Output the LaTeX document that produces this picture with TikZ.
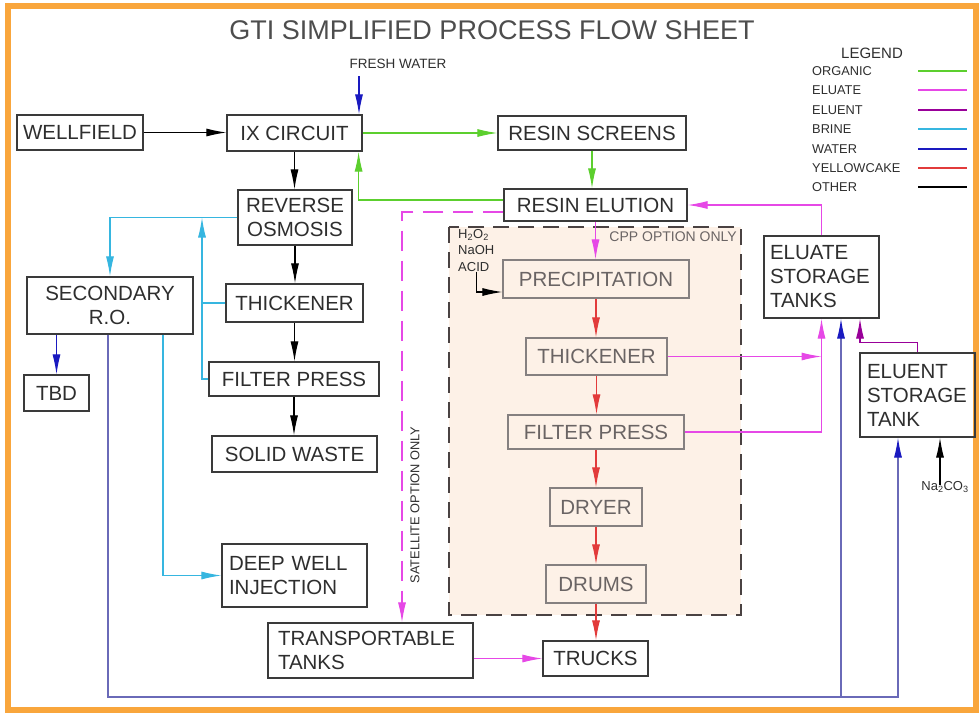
\documentclass[tikz,border=0pt]{standalone}
\usepackage{fontspec}
\setmainfont{Liberation Sans}
\usepackage{xcolor}
\usetikzlibrary{arrows.meta}

\definecolor{organic}{HTML}{5CCF2E}
\definecolor{eluate}{HTML}{E648E6}
\definecolor{eluent}{HTML}{990099}
\definecolor{brine}{HTML}{36B6E0}
\definecolor{water}{HTML}{1A1AC0}
\definecolor{waterline}{HTML}{6A6AB8}
\definecolor{yellowcake}{HTML}{E23B3B}
\definecolor{frameorange}{HTML}{F9A63C}
\definecolor{cppfill}{HTML}{FDF1E7}
\definecolor{cppdash}{HTML}{4A4242}
\definecolor{cppline}{HTML}{858080}
\definecolor{cpptext}{HTML}{6A6464}
\definecolor{boxline}{HTML}{3A3A3A}
\definecolor{textdark}{HTML}{2E2E2E}

\newcommand{\boxfont}{\fontsize{20.5}{24}\selectfont}
\newcommand{\smallfont}{\fontsize{13.5}{16}\selectfont}
\newcommand{\chemfont}{\fontsize{13}{16.5}\selectfont}

\begin{document}
\begin{tikzpicture}[x=1pt, y=-1pt,
  box/.style={draw=boxline, line width=1.2pt, inner sep=0pt, align=center, text=textdark, font=\boxfont},
  lbox/.style={box, align=left, inner xsep=7pt},
  cppbox/.style={box, draw=cppline, text=cpptext},
  smalltext/.style={font=\smallfont, text=textdark, inner sep=0pt},
  legendtext/.style={smalltext, font=\fontsize{12.8}{15}\selectfont, anchor=west},
  flow/.style={line width=1.1pt, -{Latex[length=20pt, width=8pt]}},
  organicflow/.style={flow, organic},
  eluateflow/.style={flow, eluate},
  eluentflow/.style={flow, eluent},
  brineflow/.style={flow, brine},
  waterflow/.style={flow, water},
  longwater/.style={flow, draw=waterline, -{Latex[length=20pt, width=8pt, color=water]}},
  cakeflow/.style={flow, yellowcake}]
\useasboundingbox (0,0) rectangle (979,713);
% Frame and title
\draw[frameorange, line width=6pt] (8,6) rectangle (976,710);
\node[font=\fontsize{27}{30}\selectfont, text=textdark!85] at (492,30) (title) {GTI SIMPLIFIED PROCESS FLOW SHEET};
% CPP option area
\draw[cppdash, fill=cppfill, line width=2.6pt, dash pattern=on 16pt off 9pt] (449,227) rectangle (741,615);
% Define the nodes
\node[box, minimum width=126pt, minimum height=35pt] at (80,132.5) (wellfield) {WELLFIELD};
\node[box, minimum width=135pt, minimum height=36pt] at (294.5,133) (ix) {IX CIRCUIT};
\node[box, minimum width=188pt, minimum height=34pt] at (592,133) (screens) {RESIN SCREENS};
\node[box, minimum width=183pt, minimum height=32pt] at (595.5,205) (elution) {RESIN ELUTION};
\node[box, minimum width=114pt, minimum height=55pt] at (295,217.5) (ro) {REVERSE\\OSMOSIS};
\node[box, minimum width=137pt, minimum height=38pt] at (294.5,303) (thickL) {THICKENER};
\node[box, minimum width=170pt, minimum height=34pt] at (294,379) (filterL) {FILTER PRESS};
\node[box, minimum width=165pt, minimum height=36pt] at (294.5,454) (waste) {SOLID WASTE};
\node[box, minimum width=166pt, minimum height=57pt] at (110,305.5) (secro) {SECONDARY\\R.O.};
\node[box, minimum width=65pt, minimum height=36pt] at (56.5,393) (tbd) {TBD};
\node[lbox, text width=131pt, minimum height=63pt] at (294.5,575.5) (deepwell) {DEEP WELL\\INJECTION};
\node[lbox, inner xsep=10pt, text width=185pt, minimum height=55pt] at (370.5,650.5) (transport) {TRANSPORTABLE\\TANKS};
\node[box, minimum width=105pt, minimum height=35pt] at (595.5,658.5) (trucks) {TRUCKS};
\node[cppbox, minimum width=186pt, minimum height=38pt] at (596,279) (precip) {PRECIPITATION};
\node[cppbox, minimum width=141pt, minimum height=37pt] at (596.5,356.5) (thickR) {THICKENER};
\node[cppbox, minimum width=176pt, minimum height=34pt] at (596,432) (filterR) {FILTER PRESS};
\node[cppbox, minimum width=92pt, minimum height=38pt] at (596,507) (dryer) {DRYER};
\node[cppbox, minimum width=100pt, minimum height=38pt] at (596,584) (drums) {DRUMS};
\node[lbox, inner xsep=6pt, text width=103pt, minimum height=82pt] at (821.5,277) (eluate) {ELUATE\\STORAGE\\TANKS};
\node[lbox, text width=101pt, minimum height=84pt] at (917.5,395) (eluent) {ELUENT\\STORAGE\\TANK};
% Labels
\node[smalltext] at (398,64) (freshwater) {FRESH WATER};
\node[smalltext, font=\chemfont, align=left, anchor=north west] at (458,229) (chem) {H\textsubscript{2}O\textsubscript{2}\\NaOH\\ACID};
\node[smalltext, font=\fontsize{14}{16}\selectfont, text=cpptext, anchor=east] at (737,237) (cppnote) {CPP OPTION ONLY};
\node[smalltext, font=\fontsize{12.8}{15}\selectfont, rotate=90] at (415,505) (satnote) {SATELLITE OPTION ONLY};
\node[smalltext, font=\chemfont] at (945,487) (soda) {Na\textsubscript{2}CO\textsubscript{3}};
% Legend
\node[smalltext, font=\fontsize{15}{17}\selectfont] at (872,53) (legend) {LEGEND};
\node[legendtext] at (812,71) (lorganic) {ORGANIC};
\node[legendtext] at (812,90) (leluate) {ELUATE};
\node[legendtext] at (812,110) (leluent) {ELUENT};
\node[legendtext] at (812,129) (lbrine) {BRINE};
\node[legendtext] at (812,149) (lwater) {WATER};
\node[legendtext] at (812,168) (lcake) {YELLOWCAKE};
\node[legendtext] at (812,187) (lother) {OTHER};
\draw[organic, line width=2.5pt] (918,71) -- (967,71);
\draw[eluate, line width=2.5pt] (918,90) -- (967,90);
\draw[eluent, line width=2.5pt] (918,110) -- (967,110);
\draw[brine, line width=2.5pt] (918,129) -- (967,129);
\draw[water, line width=2.5pt] (918,149) -- (967,149);
\draw[yellowcake, line width=2.5pt] (918,168) -- (967,168);
\draw[black, line width=2.5pt] (918,187) -- (967,187);
% Draw the paths
\draw[flow] (wellfield.east) -- (wellfield.east -| ix.west);
\draw[flow] (ix.south) -- (ix.south |- ro.north);
\draw[flow] (ro.south) -- (ro.south |- thickL.north);
\draw[flow] (thickL.south) -- (thickL.south |- filterL.north);
\draw[flow] (filterL.south) -- (filterL.south |- waste.north);
\draw[flow] (chem.south) |- ([yshift=-13pt]precip.west);
\draw[flow] ([xshift=-5pt,yshift=-4pt]soda.north) -- ([xshift=22.5pt]eluent.south);
% water
\coordinate (fwtop) at (359,76);
\coordinate (wbase) at (0,697);
\coordinate (wup) at ([xshift=19.5pt]eluate.south);
\coordinate (wright) at ([xshift=-19.5pt]eluent.south);
\draw[waterflow] (fwtop) -- (fwtop |- ix.north);
\draw[waterflow] (tbd.north |- secro.south) -- (tbd.north);
\draw[longwater] ([xshift=-2pt]secro.south) |- (wright |- wbase) -- (wright);
\draw[longwater] (wup |- wbase) -- (wup);
% organic
\draw[organicflow] (ix.east) -- (ix.east -| screens.west);
\draw[organicflow] (screens.south) -- (screens.south |- elution.north);
\draw[organicflow] ([yshift=5pt]elution.west) -| ([xshift=-4pt]ix.south east);
% eluate
\draw[eluateflow, dash pattern=on 20pt off 10pt] ([yshift=-7pt]elution.west) -| ([xshift=31.5pt]transport.north);
\draw[eluateflow] (elution.south) -- (elution.south |- precip.north);
\draw[eluateflow] (eluate.north) |- (elution.east);
\draw[eluateflow] (thickR.east) -- (thickR.east -| eluate.south);
\draw[eluateflow] (filterR.east) -| (eluate.south);
\draw[eluateflow] (transport.east |- trucks.west) -- (trucks.west);
% eluent
\coordinate (pup) at ([xshift=38.5pt]eluate.south);
\draw[eluentflow] (eluent.north) -- ++(0,-10) -| (pup);
% brine
\coordinate (bjoin) at (202,217.5);
\draw[brineflow] (ro.west) -| (secro.north);
\draw[brineflow] (filterL.west) -| (bjoin);
\draw[brine, line width=1.1pt] (thickL.west) -- (thickL.west -| bjoin);
\draw[brineflow] ([xshift=53pt]secro.south) |- (deepwell.west);
% yellowcake
\draw[cakeflow] (precip.south) -- (precip.south |- thickR.north);
\draw[cakeflow] (thickR.south) -- (thickR.south |- filterR.north);
\draw[cakeflow] (filterR.south) -- (filterR.south |- dryer.north);
\draw[cakeflow] (dryer.south) -- (dryer.south |- drums.north);
\draw[cakeflow] (drums.south) -- (drums.south |- trucks.north);
\end{tikzpicture}
\end{document}
